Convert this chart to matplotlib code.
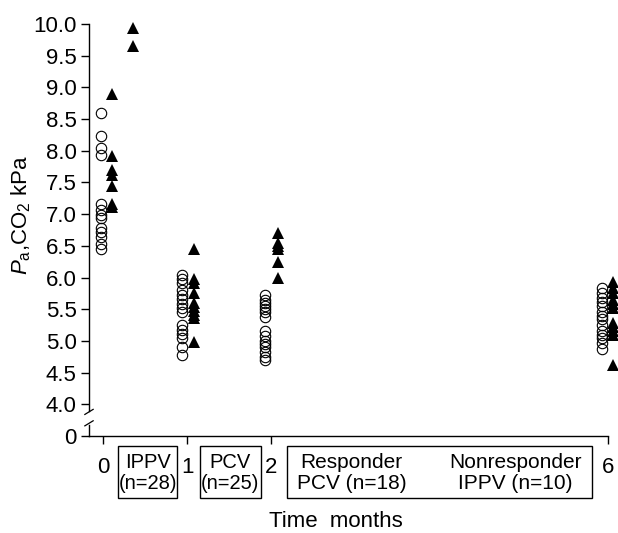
import numpy as np
import matplotlib
matplotlib.use('Agg')
import matplotlib.pyplot as plt
import matplotlib.transforms as mtransforms
from matplotlib.patches import Rectangle

plt.rcParams['font.family'] = ['Liberation Sans', 'DejaVu Sans']
plt.rcParams['mathtext.fontset'] = 'custom'
plt.rcParams['mathtext.rm'] = 'Liberation Sans'
plt.rcParams['mathtext.it'] = 'Liberation Sans:italic'

# PaCO2 (kPa); open circles / filled triangles per visit
circ_m0 = [8.60, 8.24, 8.04, 7.93, 7.16, 7.06, 6.99, 6.94, 6.78, 6.72, 6.64, 6.53, 6.45]
tri_m0 = [8.89, 7.91, 7.70, 7.61, 7.44, 7.16, 7.11]
tri_m0_high = [9.93, 9.65]

circ_m1 = [6.04, 5.98, 5.91, 5.80, 5.73, 5.66, 5.59, 5.52, 5.46, 5.25, 5.18, 5.11, 5.05, 4.91, 4.77]
tri_m1 = [6.45, 5.97, 5.92, 5.75, 5.60, 5.54, 5.47, 5.41, 5.36, 4.99]

circ_m2 = [5.72, 5.65, 5.60, 5.55, 5.50, 5.45, 5.38, 5.15, 5.08, 5.00, 4.95, 4.90, 4.82, 4.75, 4.70]
tri_m2 = [6.70, 6.55, 6.50, 6.45, 6.25, 6.00]

circ_m6 = [5.83, 5.75, 5.68, 5.62, 5.55, 5.45, 5.40, 5.35, 5.25, 5.15, 5.10, 5.05, 4.97, 4.87]
tri_m6 = [5.93, 5.83, 5.75, 5.65, 5.58, 5.52, 5.28, 5.22, 5.15, 5.10, 4.62]

months = [0, 1, 2, 6]
ytick_vals = [3.5] + list(np.arange(4.0, 10.01, 0.5))
ytick_labels = ['0'] + ['%.1f' % v for v in np.arange(4.0, 10.01, 0.5)]


def circles(ax, x, vals):
    ax.plot(np.full(len(vals), x), vals, 'o', mfc='none', mec='black',
            ms=7.5, mew=0.8, clip_on=False)


def triangles(ax, x, vals):
    ax.plot(np.full(len(vals), x), vals, '^', color='black',
            ms=8, mew=0, clip_on=False)


fig = plt.figure(figsize=(6.18, 5.33), dpi=100)
ax = fig.add_axes([0.144, 0.182, 0.84, 0.773])

circles(ax, -0.02, circ_m0)
triangles(ax, 0.11, tri_m0)
triangles(ax, 0.36, tri_m0_high)
circles(ax, 1 - 0.06, circ_m1)
triangles(ax, 1 + 0.08, tri_m1)
circles(ax, 2 - 0.07, circ_m2)
triangles(ax, 2 + 0.08, tri_m2)
circles(ax, 6 - 0.07, circ_m6)
triangles(ax, 6 + 0.06, tri_m6)

ax.set_xlim(-0.166, 6.0)
ax.set_ylim(3.5, 10.0)
ax.set_xticks(months)
ax.set_xticklabels([str(m) for m in months])
ax.set_yticks(ytick_vals)
ax.set_yticklabels(ytick_labels)
ax.tick_params(axis='both', direction='out', length=6, width=1, labelsize=16)
ax.tick_params(axis='x', pad=9)
ax.tick_params(axis='y', pad=3)

ax.spines['top'].set_visible(False)
ax.spines['right'].set_visible(False)
ax.spines['left'].set_bounds(3.9, 10.0)
ax.spines['left'].set_linewidth(1)
ax.spines['bottom'].set_linewidth(1)

# axis break on the y axis
yb = mtransforms.blended_transform_factory(ax.transAxes, ax.transData)
ax.plot([0, 0], [3.5, 3.68], color='black', lw=1, transform=yb, clip_on=False)
ax.plot([-0.008, 0.008], [3.66, 3.74], color='black', lw=0.9, transform=yb, clip_on=False)
ax.plot([-0.008, 0.008], [3.84, 3.92], color='black', lw=0.9, transform=yb, clip_on=False)

ax.set_ylabel(r'$P_{\rm a}$,CO$_2$ kPa', fontsize=16)
ax.yaxis.set_label_coords(-0.108, 0.535)
ax.set_xlabel('Time  months', fontsize=16)
ax.xaxis.set_label_coords(0.476, -0.182)

# treatment boxes under the x axis
xb = ax.get_xaxis_transform()
boxes = [(0.18, 0.88), (1.15, 1.88), (2.19, 5.81)]
for x0, x1 in boxes:
    ax.add_patch(Rectangle((x0, -0.150), x1 - x0, 0.126, transform=xb,
                           fill=False, ec='black', lw=1, clip_on=False))

box_texts = [(0.53, 'IPPV\n(n=28)', 14.5), (1.51, 'PCV\n(n=25)', 14.5),
             (2.95, 'Responder\nPCV (n=18)', 15), (4.90, 'Nonresponder\nIPPV (n=10)', 15)]
for xc, t, fs in box_texts:
    ax.text(xc, -0.089, t, transform=xb, ha='center', va='center',
            multialignment='center', linespacing=1.15, fontsize=fs)

fig.savefig('out.png', dpi=100)
